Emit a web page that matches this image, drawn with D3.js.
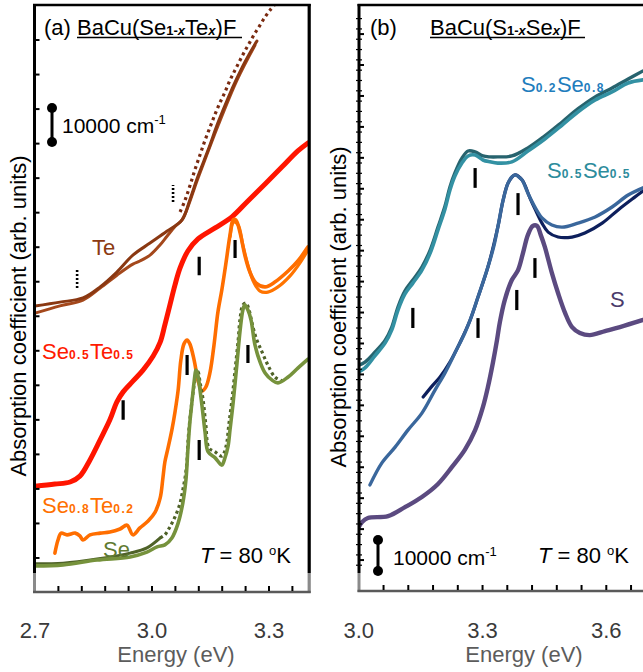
<!DOCTYPE html>
<html><head><meta charset="utf-8">
<script src="https://cdn.jsdelivr.net/npm/d3@7"></script>
<style>
body{margin:0;background:#fff}
svg{display:block}
text{font-family:"Liberation Sans",Arial,Helvetica,sans-serif}
</style>
</head><body>
<svg id="chart" width="643" height="672"></svg>
<script>
// ---------------- DATA (energy in eV, absorption in arb. units = tick spacing) ----------------
// Panel (a): BaCu(Se1-xTex)F
const teA = [[2.70,8.30],[2.764,8.41],[2.823,8.53],[2.867,8.85],[2.910,9.28],[2.951,9.77],[2.995,10.12],[3.038,10.46],[3.077,10.79],[3.097,11.37],[3.118,12.06],[3.144,12.82],[3.169,13.60],[3.195,14.32],[3.218,14.90],[3.238,15.36],[3.264,15.88],[3.269,15.97]];
const teB = [[2.70,8.09],[2.764,8.30],[2.823,8.47],[2.867,8.82],[2.910,9.19],[2.951,9.51],[2.969,9.60],[2.995,9.77],[3.021,10.07],[3.038,10.31],[3.059,10.60],[3.077,10.79],[3.118,12.00],[3.169,13.51],[3.218,14.84],[3.264,15.85]];
const teCalc = [[3.072,11.02],[3.085,11.37],[3.097,11.77],[3.110,12.24],[3.123,12.67],[3.136,13.10],[3.149,13.48],[3.162,13.86],[3.174,14.18],[3.187,14.49],[3.200,14.84],[3.213,15.13],[3.226,15.42],[3.238,15.68],[3.251,15.94],[3.264,16.20],[3.277,16.43],[3.290,16.67],[3.303,16.87],[3.318,17.07]];
const se5te5 = [[2.70,3.08],[2.751,3.14],[2.790,3.20],[2.815,3.37],[2.841,3.84],[2.867,4.42],[2.892,5.00],[2.910,5.52],[2.926,5.81],[2.951,6.12],[2.977,6.44],[3.003,6.85],[3.021,7.25],[3.033,7.75],[3.046,8.33],[3.059,8.91],[3.072,9.40],[3.092,9.89],[3.118,10.24],[3.162,10.56],[3.205,10.88],[3.246,11.34],[3.290,11.83],[3.333,12.32],[3.374,12.79],[3.400,13.02]];
const se8te2 = [[2.751,1.14],[2.759,1.52],[2.767,1.72],[2.782,1.67],[2.803,1.72],[2.815,1.64],[2.823,1.52],[2.841,1.67],[2.867,1.72],[2.892,1.75],[2.918,1.84],[2.936,1.95],[2.951,1.67],[2.969,1.87],[2.990,2.07],[3.008,2.33],[3.021,2.74],[3.028,3.32],[3.033,3.78],[3.041,4.18],[3.051,4.71],[3.059,5.23],[3.067,5.86],[3.074,6.73],[3.082,7.20],[3.090,7.31],[3.097,7.20],[3.108,6.73],[3.118,6.15],[3.128,5.84],[3.138,5.95],[3.149,6.39],[3.159,7.17],[3.169,8.12],[3.179,8.76],[3.190,9.57],[3.200,10.35],[3.208,10.79],[3.215,10.79],[3.226,10.41],[3.238,9.77],[3.251,9.28],[3.267,8.96],[3.290,8.85],[3.315,8.99],[3.349,9.31],[3.374,9.60],[3.400,10.01]];
const se8te2b = [[3.200,10.30],[3.210,10.73],[3.221,10.64],[3.233,10.06],[3.246,9.48],[3.262,8.96],[3.277,8.73],[3.297,8.70],[3.323,8.85],[3.354,9.17],[3.379,9.54],[3.400,9.92]];
const seMeas = [[2.70,0.77],[2.772,0.80],[2.859,0.94],[2.944,1.03],[2.987,1.17],[3.013,1.32],[3.033,1.38],[3.051,1.58],[3.067,2.01],[3.079,2.59],[3.087,3.26],[3.092,4.13],[3.097,4.91],[3.103,5.58],[3.108,6.10],[3.113,6.44],[3.118,6.27],[3.123,5.87],[3.128,5.43],[3.136,4.65],[3.144,4.07],[3.162,3.90],[3.179,3.69],[3.187,3.90],[3.195,4.24],[3.200,4.71],[3.208,5.49],[3.218,6.65],[3.226,7.60],[3.233,8.18],[3.238,8.33],[3.246,8.18],[3.254,7.89],[3.264,7.17],[3.277,6.68],[3.290,6.36],[3.308,6.15],[3.323,6.07],[3.349,6.24],[3.374,6.50],[3.400,6.76]];
const seLow = [[2.70,0.83],[2.772,0.85],[2.859,0.97],[2.944,1.14],[2.987,1.29],[3.021,1.58]];
const seCalc = [[3.021,1.58],[3.033,1.67],[3.046,1.90],[3.059,2.19],[3.072,2.59],[3.079,2.97],[3.085,3.34],[3.090,3.84],[3.092,4.33],[3.097,5.00],[3.103,5.58],[3.108,6.01],[3.113,6.30],[3.118,6.39],[3.123,6.10],[3.131,5.58],[3.138,4.86],[3.146,4.19],[3.162,4.07],[3.179,3.95],[3.190,4.24],[3.197,4.86],[3.205,5.58],[3.213,6.44],[3.221,7.31],[3.226,7.95],[3.233,8.33],[3.241,8.38],[3.249,8.18],[3.256,7.83],[3.267,7.37],[3.282,6.97],[3.297,6.59],[3.315,6.24],[3.333,6.13]];
const barsA = [[2.926,5.00,5.57],[3.121,9.19,9.72],[3.213,9.69,10.21],[3.090,6.30,6.88],[3.121,3.84,4.42],[3.246,6.65,7.17]];
const dotBarsA = [[2.808,8.82,9.34],[3.054,11.31,11.80]];

// Panel (b): BaCu(S1-xSex)F
const s2se8a = [[3.000,7.08],[3.015,7.21],[3.039,7.60],[3.064,8.02],[3.080,8.44],[3.095,9.08],[3.112,9.60],[3.131,9.95],[3.153,10.37],[3.173,10.92],[3.192,11.67],[3.209,12.35],[3.221,12.96],[3.233,13.41],[3.250,13.83],[3.265,14.06],[3.282,14.09],[3.301,13.93],[3.318,13.87],[3.337,13.83],[3.371,13.87],[3.410,14.22],[3.451,14.61],[3.493,15.06],[3.531,15.48],[3.573,15.87],[3.614,16.13],[3.653,16.42],[3.689,16.52]];
const s2se8b = [[3.000,7.30],[3.015,7.40],[3.039,7.72],[3.064,8.11],[3.080,8.53],[3.095,9.18],[3.112,9.70],[3.131,10.05],[3.153,10.47],[3.173,11.02],[3.192,11.76],[3.209,12.44],[3.221,13.06],[3.233,13.51],[3.250,13.99],[3.265,14.22],[3.282,14.19],[3.301,14.06],[3.318,14.03],[3.337,14.03],[3.371,14.06],[3.410,14.32],[3.451,14.71],[3.493,15.16],[3.531,15.58],[3.573,15.97],[3.614,16.26],[3.653,16.55],[3.689,16.81]];
const s5se5a = [[3.027,3.43],[3.056,4.14],[3.088,4.65],[3.119,5.20],[3.153,5.75],[3.185,6.50],[3.209,7.05],[3.233,7.69],[3.257,8.34],[3.270,8.76],[3.289,9.50],[3.313,10.47],[3.328,11.18],[3.337,11.76],[3.350,12.64],[3.362,13.19],[3.371,13.38],[3.379,13.45],[3.388,13.38],[3.396,13.28],[3.410,12.86],[3.427,12.41],[3.444,12.06],[3.468,11.83],[3.493,11.76],[3.531,11.89],[3.573,12.09],[3.614,12.41],[3.653,12.80],[3.689,13.03]];
const s5se5b = [[3.156,6.27],[3.178,6.63],[3.197,6.92],[3.221,7.40],[3.246,8.05],[3.270,8.76],[3.289,9.50],[3.313,10.47],[3.337,11.76],[3.350,12.64],[3.362,13.19],[3.379,13.45],[3.396,13.28],[3.415,12.70],[3.427,12.35],[3.444,11.89],[3.459,11.60],[3.483,11.44],[3.517,11.44],[3.548,11.57],[3.590,11.89],[3.628,12.31],[3.669,12.73],[3.689,12.93]];
const sPure = [[3.000,2.07],[3.008,2.23],[3.022,2.36],[3.071,2.42],[3.112,2.71],[3.153,3.04],[3.192,3.46],[3.226,4.01],[3.257,4.56],[3.282,5.20],[3.301,5.95],[3.313,6.59],[3.325,7.37],[3.335,8.11],[3.342,8.69],[3.354,9.41],[3.371,10.05],[3.386,10.37],[3.398,10.92],[3.410,11.51],[3.422,11.80],[3.432,11.80],[3.441,11.51],[3.451,11.12],[3.468,10.28],[3.483,9.63],[3.500,8.99],[3.517,8.53],[3.536,8.34],[3.560,8.27],[3.597,8.40],[3.633,8.53],[3.689,8.76]];
const barsB = [[3.131,8.50,9.15],[3.282,13.03,13.67],[3.289,8.18,8.82],[3.386,12.15,12.86],[3.427,10.12,10.76],[3.383,9.08,9.73]];

const xTicksA = [2.76,2.82,2.88,2.94,3.00,3.06,3.12,3.18,3.24,3.30,3.36];
const xLabelsA = [2.7,3.0,3.3];
const xTicksB = [3.06,3.12,3.18,3.24,3.30,3.36,3.42,3.48,3.54,3.60,3.66];
const xLabelsB = [3.0,3.3,3.6];
const yTicksA = d3.range(1,17);
const yTicksB = d3.range(1,19);

// ---------------- DRAWING ----------------
const svg = d3.select("#chart");
const BLACK = "#000", GRAY = "#6e6e6e";

function panel(opt){
  const {x, y, id, xTicks, xLabels, yTicks, right, bottom, top, left, minor} = opt;
  const g = svg.append("g");
  g.append("clipPath").attr("id", id).append("rect")
    .attr("x", left).attr("y", top).attr("width", right-left).attr("height", bottom-top);
  const plot = g.append("g").attr("clip-path", `url(#${id})`);
  // frame
  const fr = g.append("g");
  fr.append("line").attr("x1",left).attr("x2",left).attr("y1",top-1).attr("y2",573).attr("stroke",BLACK).attr("stroke-width",3);
  fr.append("line").attr("x1",left).attr("x2",left).attr("y1",573).attr("y2",bottom+1).attr("stroke","#8a8a8a").attr("stroke-width",3);
  fr.append("line").attr("x1",left-1.5).attr("x2",right+1.5).attr("y1",top).attr("y2",top).attr("stroke",BLACK).attr("stroke-width",2.5);
  if (opt.drawRight){
    fr.append("line").attr("x1",right).attr("x2",right).attr("y1",top-1).attr("y2",573).attr("stroke",BLACK).attr("stroke-width",3.2);
    fr.append("line").attr("x1",right).attr("x2",right).attr("y1",573).attr("y2",bottom+1).attr("stroke","#8a8a8a").attr("stroke-width",3.2);
  }
  fr.append("line").attr("x1",left-1.5).attr("x2",right+1.5).attr("y1",bottom).attr("y2",bottom).attr("stroke","#5a5a5a").attr("stroke-width",2.5);
  // x ticks (inside, up)
  fr.selectAll(".xt").data(xTicks).join("line")
    .attr("x1",d=>x(d)).attr("x2",d=>x(d)).attr("y1",bottom-1).attr("y2",bottom-6)
    .attr("stroke",BLACK).attr("stroke-width",2);
  // y ticks (inside, right)
  fr.selectAll(".yt").data(yTicks).join("line")
    .attr("x1",left).attr("x2",left+5).attr("y1",d=>y(d)).attr("y2",d=>y(d))
    .attr("stroke",BLACK).attr("stroke-width",2);
  if (minor){
    const mt = d3.range(0.5, yTicks[yTicks.length-1]+0.6, 1/3).filter(v=>y(v)<571 && y(v)>8);
    fr.selectAll(".ym").data(mt).join("line")
      .attr("x1",left-3).attr("x2",left+3).attr("y1",d=>y(d)).attr("y2",d=>y(d))
      .attr("stroke",BLACK).attr("stroke-width",1.2);
  }
  // x labels
  g.selectAll(".xl").data(xLabels).join("text")
    .attr("x",d=>x(d)).attr("y",638).attr("text-anchor","middle")
    .attr("font-size",22).attr("fill","#3a3a3a").text(d=>d.toFixed(1));
  g.append("text").attr("x",opt.xTitleX).attr("y",662).attr("text-anchor","middle")
    .attr("font-size",22).attr("fill","#5c5c5c").text("Energy (eV)");
  g.append("text").attr("transform",`translate(${opt.yTitleX},${opt.yTitleY}) rotate(-90)`)
    .attr("text-anchor","middle").attr("font-size",22).attr("fill",BLACK)
    .text("Absorption coefficient (arb. units)");
  return plot;
}

function curve(g, x, y, data, color, width, dash){
  const p = g.append("path").datum(data)
    .attr("d", d3.line().x(d=>x(d[0])).y(d=>y(d[1])).curve(d3.curveCatmullRom.alpha(0.5)))
    .attr("fill","none").attr("stroke",color).attr("stroke-width",width)
    .attr("stroke-linejoin","round").attr("stroke-linecap", dash ? "butt" : "round");
  if (dash) p.attr("stroke-dasharray", dash);
  return p;
}
function bars(g, x, y, data){
  g.selectAll(null).data(data).join("line")
    .attr("x1",d=>x(d[0])).attr("x2",d=>x(d[0])).attr("y1",d=>y(d[1])).attr("y2",d=>y(d[2]))
    .attr("stroke",BLACK).attr("stroke-width",3.2);
}
function dotBars(g, x, y, data){
  g.selectAll(null).data(data).join("line")
    .attr("x1",d=>x(d[0])).attr("x2",d=>x(d[0])).attr("y1",d=>y(d[1])).attr("y2",d=>y(d[2]))
    .attr("stroke",BLACK).attr("stroke-width",2.6).attr("stroke-dasharray","2,2");
}
function label(g, x0, y0, parts, color, size){
  const t = g.append("text").attr("x",x0).attr("y",y0).attr("fill",color).attr("font-size",size);
  parts.forEach(p=>{
    const s = t.append("tspan").text(p.t);
    if (p.fs) s.attr("font-size",p.fs);
    if (p.fw) s.attr("font-weight",p.fw);
    if (p.fi) s.attr("font-style","italic");
    if (p.ls) s.attr("letter-spacing",p.ls);
    if (p.dy) s.attr("dy",p.dy);
  });
  return t;
}
function scaleBar(g, x0, y1, y2, tx, ty){
  g.append("line").attr("x1",x0).attr("x2",x0).attr("y1",y1).attr("y2",y2).attr("stroke",BLACK).attr("stroke-width",3);
  g.append("circle").attr("cx",x0).attr("cy",y1).attr("r",5).attr("fill",BLACK);
  g.append("circle").attr("cx",x0).attr("cy",y2).attr("r",5).attr("fill",BLACK);
  label(g, tx, ty, [{t:"10000 cm"},{t:"-1",fs:13,dy:-9}], BLACK, 21);
}

// ---- Panel (a)
const xa = d3.scaleLinear().domain([2.7,3.4]).range([35,308]);
const ya = d3.scaleLinear().domain([0,17]).range([592.5,5.5]);
const pa = panel({x:xa, y:ya, id:"clipA", xTicks:xTicksA, xLabels:xLabelsA, yTicks:yTicksA,
  left:34.5, right:309.2, top:5, bottom:592, drawRight:true, xTitleX:176, yTitleX:26, yTitleY:316});

curve(pa, xa, ya, teB, "#a4481c", 3);
curve(pa, xa, ya, teA, "#8a3812", 3);
curve(pa, xa, ya, teCalc, "#7a2a10", 3.2, "3,3.5");
curve(pa, xa, ya, se5te5, "#ff1500", 5);
curve(pa, xa, ya, se8te2b, "#ff7400", 3.2);
curve(pa, xa, ya, se8te2, "#ff6e00", 3.6);
curve(pa, xa, ya, seLow, "#4f6228", 3);
curve(pa, xa, ya, seCalc, "#4f6228", 3.2, "3,3");
curve(pa, xa, ya, seMeas, "#76923c", 3.6);
bars(pa, xa, ya, barsA);
dotBars(pa, xa, ya, dotBarsA);

const la = svg.append("g");
label(la, 44, 35, [{t:"(a) "},{t:"BaCu(Se"},{t:"1-",fs:13,fw:"bold"},{t:"x",fs:13,fw:"bold",fi:true},{t:"Te"},{t:"x",fs:13,fw:"bold",fi:true},{t:")F"}], BLACK, 22);
la.append("line").attr("x1",77).attr("x2",242).attr("y1",37.5).attr("y2",37.5).attr("stroke",BLACK).attr("stroke-width",1.6);
scaleBar(la, 52, 108, 142, 62, 133);
label(la, 92, 255, [{t:"Te"}], "#8b3a12", 22);
label(la, 42, 359, [{t:"Se"},{t:"0.5",fs:12,fw:"bold",ls:1.5},{t:"Te"},{t:"0.5",fs:12,fw:"bold",ls:1.5}], "#ff1a00", 22);
label(la, 42, 513, [{t:"Se"},{t:"0.8",fs:12,fw:"bold",ls:1.5},{t:"Te"},{t:"0.2",fs:12,fw:"bold",ls:1.5}], "#ff7000", 22);
label(la, 103, 557, [{t:"Se"}], "#5f7a30", 22);
label(la, 200, 563, [{t:"T",fi:true},{t:" = 80 "},{t:"o",fs:13,dy:-8},{t:"K",dy:8}], BLACK, 22);

// ---- Panel (b)
const xb = d3.scaleLinear().domain([3.0,3.7]).range([358.8,647.55]);
const yb = d3.scaleLinear().domain([0,586/30.94]).range([591,5]);
const pb = panel({x:xb, y:yb, id:"clipB", xTicks:xTicksB, xLabels:xLabelsB, yTicks:yTicksB,
  left:359, right:645, top:5, bottom:591, drawRight:false, minor:true, xTitleX:524, yTitleX:346, yTitleY:307});

curve(pb, xb, yb, s2se8b, "#27636e", 3.4);
curve(pb, xb, yb, s2se8a, "#3391a3", 3.6);
curve(pb, xb, yb, s5se5b, "#0d1f5c", 3.2);
curve(pb, xb, yb, s5se5a, "#3a679c", 3.4);
curve(pb, xb, yb, sPure, "#5b4a80", 4.4);
bars(pb, xb, yb, barsB);

const lb = svg.append("g");
label(lb, 370, 35, [{t:"(b)"}], BLACK, 22);
label(lb, 430, 35, [{t:"BaCu(S"},{t:"1-",fs:13,fw:"bold"},{t:"x",fs:13,fw:"bold",fi:true},{t:"Se"},{t:"x",fs:13,fw:"bold",fi:true},{t:")F"}], BLACK, 22);
lb.append("line").attr("x1",430).attr("x2",585).attr("y1",37.5).attr("y2",37.5).attr("stroke",BLACK).attr("stroke-width",1.6);
label(lb, 521, 92, [{t:"S"},{t:"0.2",fs:12,fw:"bold",ls:1.5},{t:"Se"},{t:"0.8",fs:12,fw:"bold",ls:1.5}], "#1f7dbd", 22);
label(lb, 547, 178, [{t:"S"},{t:"0.5",fs:12,fw:"bold",ls:1.5},{t:"Se"},{t:"0.5",fs:12,fw:"bold",ls:1.5}], "#2d8c9c", 22);
label(lb, 610, 307, [{t:"S"}], "#4b3b6b", 22);
scaleBar(lb, 378, 540, 571, 393, 565);
label(lb, 538, 563, [{t:"T",fi:true},{t:" = 80 "},{t:"o",fs:13,dy:-8},{t:"K",dy:8}], BLACK, 22);
</script>
</body></html>
